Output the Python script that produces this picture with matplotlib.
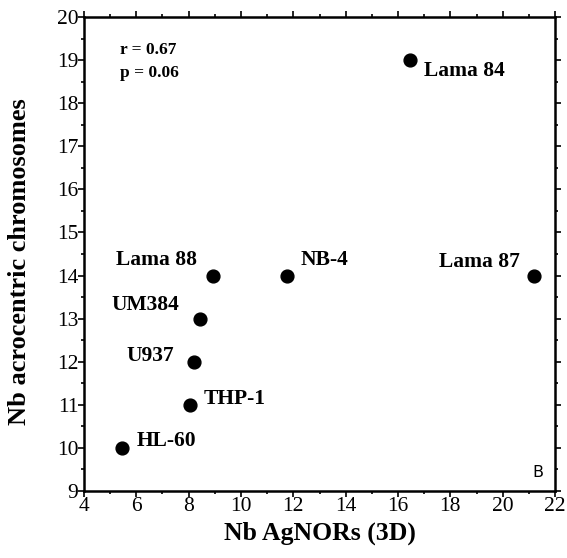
import matplotlib
matplotlib.use("Agg")
import matplotlib.pyplot as plt
from matplotlib.ticker import MultipleLocator

cell_lines = ["Lama 84", "Lama 87", "NB-4", "Lama 88", "UM384", "U937", "THP-1", "HL-60"]
agnors = [16.45, 21.2, 11.75, 8.95, 8.45, 8.2, 8.05, 5.45]
acro = [19, 14, 14, 14, 13, 12, 11, 10]
# label offsets (points) and alignment
offsets = [(10, -7.5, "left"), (-10, 10, "right"), (10, 11, "left"), (-12, 11, "right"),
           (-15, 10, "right"), (-14, 4, "right"), (10, 4.5, "left"), (10.5, 5, "left")]

xticks = [4, 6, 8, 10, 12, 14, 16, 18, 20, 22]
yticks = [9, 10, 11, 12, 13, 14, 15, 16, 17, 18, 19, 20]

plt.rcParams['font.family'] = ['Liberation Serif', 'DejaVu Serif']

fig = plt.figure(figsize=(5.67, 5.58), dpi=100)
ax = fig.add_axes([0.148, 0.12, 0.831, 0.8495])
ax.scatter(agnors, acro, s=85, color="black", zorder=3)
for name, x, y, (dx, dy, ha) in zip(cell_lines, agnors, acro, offsets):
    ax.annotate(name, (x, y), xytext=(dx, dy), textcoords="offset points",
                ha=ha, va="center", fontsize=15.5, fontweight="bold")

ax.set_xlim(4, 22)
ax.set_ylim(9, 20)
ax.set_xticks(xticks)
ax.set_yticks(yticks)
ax.xaxis.set_minor_locator(MultipleLocator(1))
ax.yaxis.set_minor_locator(MultipleLocator(0.5))
ax.tick_params(which="both", direction="out", top=True, right=True,
               labeltop=False, labelright=False, width=1.2)
ax.tick_params(which="major", length=4, labelsize=15.5, pad=0)
ax.tick_params(which="minor", length=2)
for sp in ax.spines.values():
    sp.set_linewidth(1.8)

ax.set_xlabel("Nb AgNORs (3D)", fontsize=18.5, fontweight="bold", labelpad=4)
ax.set_ylabel("Nb acrocentric chromosomes", fontsize=19, fontweight="bold")
ax.yaxis.set_label_coords(-0.112, 0.483)

ax.text(0.076, 0.930, "r = 0.67", transform=ax.transAxes, fontsize=12.5,
        fontweight="bold", va="center")
ax.text(0.076, 0.882, "p = 0.06", transform=ax.transAxes, fontsize=12.5,
        fontweight="bold", va="center")
ax.text(0.975, 0.04, "B", transform=ax.transAxes, fontsize=11.5,
        family="DejaVu Sans", ha="right", va="center")

fig.savefig("out.png", dpi=100)
